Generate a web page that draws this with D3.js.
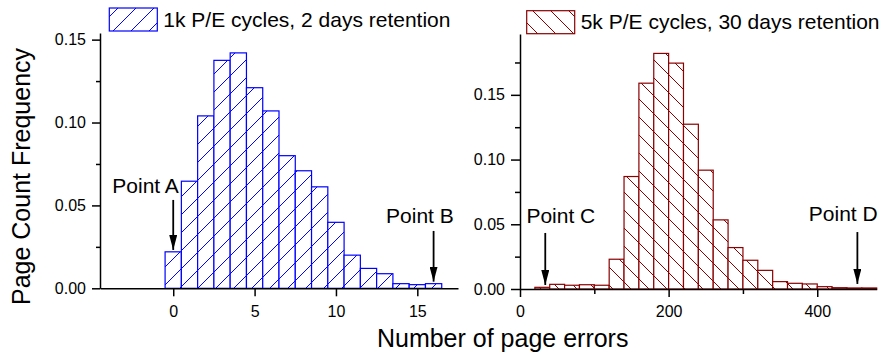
<!DOCTYPE html>
<html>
<head>
<meta charset="utf-8">
<script src="https://cdn.jsdelivr.net/npm/d3@7"></script>
<style>
  body { margin: 0; background: #fff; }
  text { font-family: "Liberation Sans", Arial, sans-serif; fill: #000; }
</style>
</head>
<body>
<script>
// left panel: 1k P/E cycles, 2 days retention (bins of width 1, centred on integers)
var leftErrors = [0, 1, 2, 3, 4, 5, 6, 7, 8, 9, 10, 11, 12, 13, 14, 15, 16];
var leftFreq = [0.022, 0.0646, 0.104, 0.1375, 0.142, 0.121, 0.107, 0.080, 0.0709,
                0.0612, 0.0398, 0.020, 0.012, 0.0088, 0.0028, 0.0022, 0.0028];
var leftTicksX = [0, 5, 10, 15];
var leftTicksY = [0, 0.05, 0.10, 0.15];
var leftMinorY = [0.025, 0.075, 0.125];

// right panel: 5k P/E cycles, 30 days retention (bins of width 20)
var rightBinStart = [20, 40, 60, 80, 100, 120, 140, 160, 180, 200, 220, 240, 260,
                     280, 300, 320, 340, 360, 380, 400, 420, 440, 460];
var rightFreq = [0.0013, 0.0036, 0.0029, 0.0033, 0.0029, 0.023, 0.0869, 0.159, 0.182,
                 0.1745, 0.1273, 0.0918, 0.0534, 0.032, 0.0222, 0.0144, 0.0057, 0.0044,
                 0.0039, 0.0018, 0.001, 0.0008, 0.0008];
var rightTicksX = [0, 200, 400];
var rightMinorX = [100, 300];
var rightTicksY = [0, 0.05, 0.10, 0.15];
var rightMinorY = [0.025, 0.075, 0.125, 0.175];

var legendLabels = ["1k P/E cycles, 2 days retention", "5k P/E cycles, 30 days retention"];

// annotations in data units: label position and arrow tail/tip
var leftNotes = [
  { label: "Point A", tx: -1.7, ty: 0.0575, ax: 0, y0: 0.0533, y1: 0.0231 },
  { label: "Point B", tx: 15.16, ty: 0.0396, ax: 16, y0: 0.0346, y1: 0.0040 }
];
var rightNotes = [
  { label: "Point C", tx: 55, ty: 0.0512, ax: 34, y0: 0.0433, y1: 0.0031 },
  { label: "Point D", tx: 435, ty: 0.0525, ax: 454, y0: 0.044, y1: 0.0039 }
];

var width = 893, height = 353;
var svg = d3.select("body").append("svg")
    .attr("width", width)
    .attr("height", height);

var defs = svg.append("defs");

function hatch(id, color, forward) {
    var s = 18;
    var p = defs.append("pattern")
        .attr("id", id)
        .attr("patternUnits", "userSpaceOnUse")
        .attr("width", s).attr("height", s);
    p.append("rect").attr("width", s).attr("height", s).attr("fill", "#fff");
    var d = forward
        ? "M0," + s + "L" + s + ",0M" + (-s / 4) + "," + (s / 4) + "L" + (s / 4) + "," + (-s / 4) +
          "M" + (s * 3 / 4) + "," + (s * 5 / 4) + "L" + (s * 5 / 4) + "," + (s * 3 / 4)
        : "M0,0L" + s + "," + s + "M" + (-s / 4) + "," + (s * 3 / 4) + "L" + (s / 4) + "," + (s * 5 / 4) +
          "M" + (s * 3 / 4) + "," + (-s / 4) + "L" + (s * 5 / 4) + "," + (s / 4);
    p.append("path").attr("d", d)
        .attr("stroke", color)
        .attr("stroke-width", 1.1)
        .attr("fill", "none")
        .attr("shape-rendering", "crispEdges");
}
hatch("hatchBlue", "#0000ff", true);
hatch("hatchRed", "#8b0000", false);

defs.append("marker")
    .attr("id", "arrowHead")
    .attr("viewBox", "0 0 15 8")
    .attr("refX", 15).attr("refY", 4)
    .attr("markerUnits", "userSpaceOnUse")
    .attr("markerWidth", 15).attr("markerHeight", 8)
    .attr("orient", "auto")
  .append("path")
    .attr("d", "M0,0L15,4L0,8Z")
    .attr("fill", "#000");

// scales
var xL = d3.scaleLinear().domain([-4.5, 17.5]).range([100, 458]);
var yL = d3.scaleLinear().domain([0, 0.154]).range([288.3, 33]);
var xR = d3.scaleLinear().domain([0, 480]).range([520, 876.7]);
var yR = d3.scaleLinear().domain([0, 0.197]).range([289, 34]);

var fmt = d3.format(".2f");

function styleAxis(g) {
    g.selectAll("path, line").attr("stroke", "#000").attr("stroke-width", 1.5);
    g.selectAll("text").style("font-size", "16px").style("font-family", "Liberation Sans, Arial, sans-serif");
}

// ---- left panel ----
var gL = svg.append("g");

gL.selectAll("rect.bar").data(leftErrors)
  .enter().append("rect")
    .attr("class", "bar")
    .attr("x", function(d) { return xL(d - 0.5); })
    .attr("width", function(d) { return xL(d + 0.5) - xL(d - 0.5); })
    .attr("y", function(d, i) { return yL(leftFreq[i]); })
    .attr("height", function(d, i) { return yL(0) - yL(leftFreq[i]); })
    .attr("fill", "url(#hatchBlue)")
    .attr("stroke", "#0000ff")
    .attr("stroke-width", 1.2);

gL.append("g")
    .attr("transform", "translate(0," + yL(0) + ")")
    .call(d3.axisBottom(xL).tickValues(leftTicksX).tickSize(8).tickSizeOuter(0).tickPadding(9))
    .call(styleAxis);

gL.append("g")
    .attr("transform", "translate(" + xL.range()[0] + ",0)")
    .call(d3.axisLeft(yL).tickValues(leftTicksY).tickFormat(fmt).tickSize(8).tickSizeOuter(0).tickPadding(6))
    .call(styleAxis);

gL.append("g")
    .attr("transform", "translate(" + xL.range()[0] + ",0)")
    .call(d3.axisLeft(yL).tickValues(leftMinorY).tickFormat("").tickSize(4).tickSizeOuter(0))
    .call(styleAxis)
    .select(".domain").remove();

// ---- right panel ----
var gR = svg.append("g");

gR.selectAll("rect.bar").data(rightBinStart)
  .enter().append("rect")
    .attr("class", "bar")
    .attr("x", function(d) { return xR(d); })
    .attr("width", function(d) { return xR(d + 20) - xR(d); })
    .attr("y", function(d, i) { return yR(rightFreq[i]); })
    .attr("height", function(d, i) { return yR(0) - yR(rightFreq[i]); })
    .attr("fill", "url(#hatchRed)")
    .attr("stroke", "#8b0000")
    .attr("stroke-width", 1.2);

gR.append("g")
    .attr("transform", "translate(0," + yR(0) + ")")
    .call(d3.axisBottom(xR).tickValues(rightTicksX).tickSize(8).tickSizeOuter(0).tickPadding(9))
    .call(styleAxis);

gR.append("g")
    .attr("transform", "translate(0," + yR(0) + ")")
    .call(d3.axisBottom(xR).tickValues(rightMinorX).tickFormat("").tickSize(5).tickSizeOuter(0))
    .call(styleAxis)
    .select(".domain").remove();

gR.append("g")
    .attr("transform", "translate(" + xR.range()[0] + ",0)")
    .call(d3.axisLeft(yR).tickValues(rightTicksY).tickFormat(fmt).tickSize(9).tickSizeOuter(0).tickPadding(6))
    .call(styleAxis);

gR.append("g")
    .attr("transform", "translate(" + xR.range()[0] + ",0)")
    .call(d3.axisLeft(yR).tickValues(rightMinorY).tickFormat("").tickSize(5).tickSizeOuter(0))
    .call(styleAxis)
    .select(".domain").remove();

// ---- annotations ----
function notes(g, data, x, y) {
    g.selectAll("text.note").data(data)
      .enter().append("text")
        .attr("class", "note")
        .attr("x", function(d) { return x(d.tx); })
        .attr("y", function(d) { return y(d.ty); })
        .attr("text-anchor", "middle")
        .style("font-size", "21px")
        .text(function(d) { return d.label; });
    g.selectAll("line.arrow").data(data)
      .enter().append("line")
        .attr("class", "arrow")
        .attr("x1", function(d) { return x(d.ax); })
        .attr("x2", function(d) { return x(d.ax); })
        .attr("y1", function(d) { return y(d.y0); })
        .attr("y2", function(d) { return y(d.y1); })
        .attr("stroke", "#000")
        .attr("stroke-width", 1.8)
        .attr("marker-end", "url(#arrowHead)");
}
notes(gL, leftNotes, xL, yL);
notes(gR, rightNotes, xR, yR);

// ---- legends ----
var legendPos = [
    { x: 109.3, y: 8, fill: "url(#hatchBlue)", stroke: "#0000ff" },
    { x: 526.7, y: 10.7, fill: "url(#hatchRed)", stroke: "#8b0000" }
];
legendLabels.forEach(function(label, i) {
    var p = legendPos[i];
    svg.append("rect")
        .attr("x", p.x).attr("y", p.y)
        .attr("width", 48).attr("height", 23)
        .attr("fill", p.fill)
        .attr("stroke", p.stroke)
        .attr("stroke-width", 1.2);
    svg.append("text")
        .attr("x", p.x + 54)
        .attr("y", p.y + 18.5)
        .style("font-size", "21px")
        .text(label);
});

// ---- axis titles ----
svg.append("text")
    .attr("transform", "translate(30,176.5) rotate(-90)")
    .attr("text-anchor", "middle")
    .style("font-size", "25px")
    .text("Page Count Frequency");

svg.append("text")
    .attr("x", 502.7)
    .attr("y", 347)
    .attr("text-anchor", "middle")
    .style("font-size", "25px")
    .text("Number of page errors");
</script>
</body>
</html>
